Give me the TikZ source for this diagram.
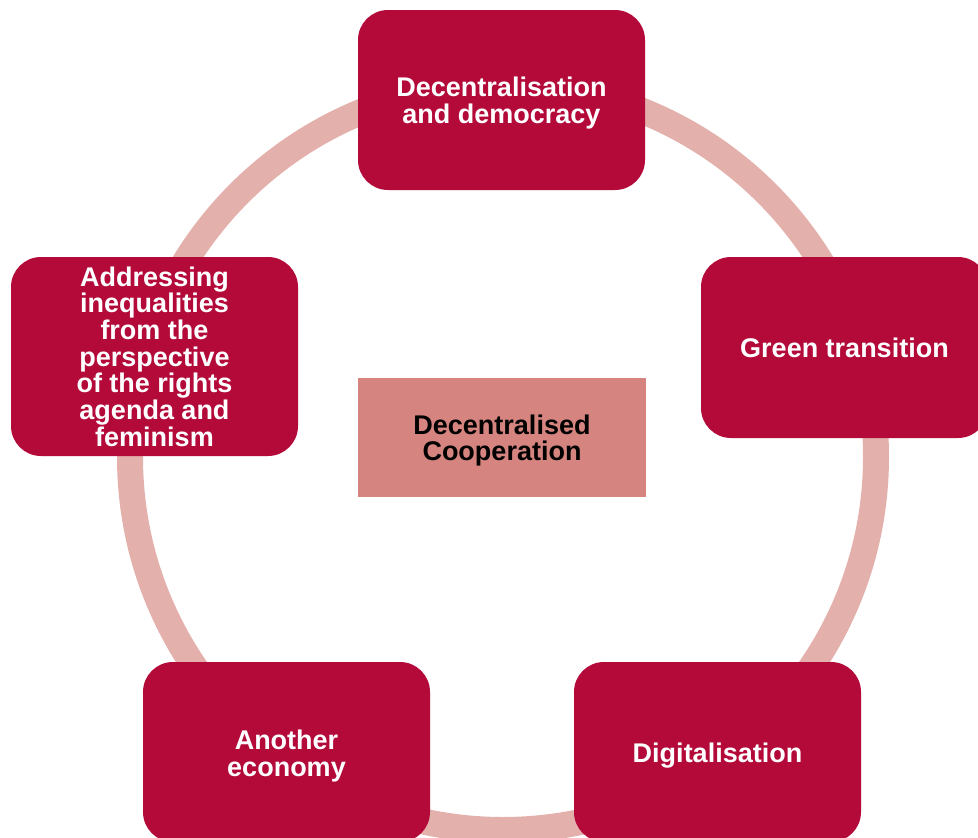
\documentclass[tikz,border=0pt]{standalone}
\usepackage{fontspec}
\setmainfont{Liberation Sans}
\definecolor{boxred}{HTML}{B30A3A}
\definecolor{ringpink}{HTML}{E4B0AC}
\definecolor{corepink}{HTML}{D58480}
\begin{document}
\begin{tikzpicture}[x=1pt,y=-1pt,
  labeltext/.style={inner sep=0pt, align=center,
    font=\bfseries\fontsize{27}{26.7}\selectfont},
  theme/.style={fill=boxred, rounded corners=30pt, minimum width=287pt,
    minimum height=180pt, inner sep=0pt},
  themetext/.style={labeltext, text=white},
  core/.style={fill=corepink, minimum width=288pt, minimum height=119pt,
    inner sep=0pt},
  coretext/.style={labeltext, text=black}]
  \useasboundingbox (0,0) rectangle (978,838);
  \clip (0,0) rectangle (978,838);
  % ring linking the themes
  \draw[ringpink, line width=26pt] (503,457) circle[radius=373];
  % themes
  \node[theme, label={[themetext, yshift=-3pt]center:Decentralisation\\and democracy}]
    (dem) at (501.5,100) {};
  \node[theme, minimum height=181pt, label={[themetext]center:Green transition}]
    (green) at (844.5,347.5) {};
  \node[theme, minimum height=199pt, label={[themetext]center:Addressing\\inequalities\\from the\\perspective\\of the rights\\agenda and\\feminism}]
    (ineq) at (154.5,356.5) {};
  \node[theme, label={[themetext, yshift=-4pt]center:Another\\economy}]
    (econ) at (286.5,752) {};
  \node[theme, label={[themetext, yshift=-4pt]center:Digitalisation}]
    (digit) at (717.5,752) {};
  % centre
  \node[core, label={[coretext, yshift=-3pt]center:Decentralised\\Cooperation}]
    (coop) at (502,437.5) {};
\end{tikzpicture}
\end{document}
